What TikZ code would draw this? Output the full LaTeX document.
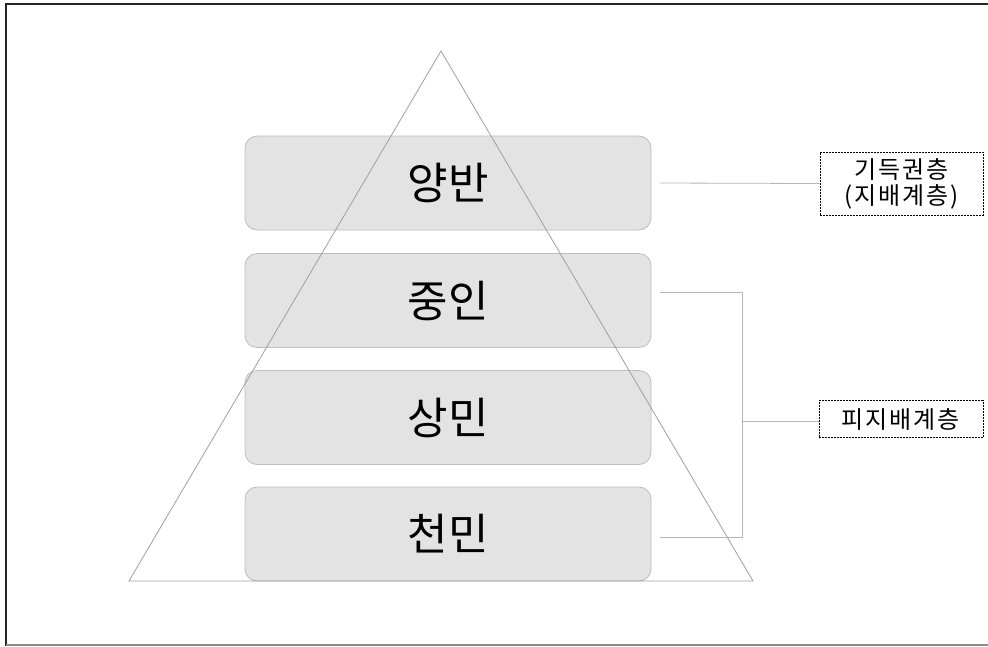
\documentclass[tikz,border=0pt]{standalone}
\usepackage{fontspec}
\setmainfont{Noto Sans CJK KR}
\newfontfamily\cjkbig{Noto Sans CJK KR}
\newfontfamily\cjklab[LetterSpace=8]{Noto Sans CJK KR}
\definecolor{boxfill}{HTML}{E3E3E3}
\definecolor{boxline}{HTML}{BDBDBD}
\definecolor{triline}{HTML}{A0A0A0}
\definecolor{conline}{HTML}{B5B5B5}
\tikzset{
  classbox/.style={draw=boxline, fill=boxfill, rounded corners=12pt, line width=0.8pt,
    minimum width=406pt, minimum height=94pt, inner sep=0pt,
    font=\cjkbig\fontsize{44}{52}\selectfont},
  labelbox/.style={draw=black, dashed, dash pattern=on 2pt off 1pt, line width=0.9pt,
    inner sep=0pt, align=center, font=\cjklab\fontsize{24}{26}\selectfont},
  conn/.style={draw=conline, line width=0.8pt},
}
\begin{document}
\begin{tikzpicture}[x=1pt,y=-1pt]
\useasboundingbox (0,0) rectangle (988,646);
% frame
\draw[line width=2pt, color=black!85] (6,646) -- (6,4) -- (988,4);
\draw[line width=1.5pt, color=black!45] (6,645) -- (988,645);
% class boxes
\node[classbox] (yb) at (448,183) {양반};
\node[classbox] (ji) at (448,300.5) {중인};
\node[classbox] (sm) at (448,417.5) {상민};
\node[classbox] (cm) at (448,534) {천민};
% pyramid
\coordinate (apex) at (441,51);
\coordinate (bl) at (129,581);
\coordinate (br) at (753,581);
\draw[triline, line width=0.8pt, line join=miter] (apex) -- (br) -- (bl) -- cycle;
% label boxes
\node[labelbox, minimum width=163pt, minimum height=63pt] (lab1) at (901.5,183.5) {기득권층\\(지배계층)};
\node[labelbox, minimum width=164pt, minimum height=37pt] (lab2) at (901,419) {피지배계층};
% connectors
\draw[conn] ([xshift=9pt]yb.east) -- (lab1.west);
\coordinate (bt) at (742,292);
\coordinate (bb) at (742,537);
\coordinate (bm) at (742,421);
\draw[conn] ([xshift=9pt]ji.east|-bt) -- (bt) -- (bb) -- ([xshift=9pt]cm.east|-bb);
\draw[conn] (bm) -- (lab2.west|-bm);
\end{tikzpicture}
\end{document}
